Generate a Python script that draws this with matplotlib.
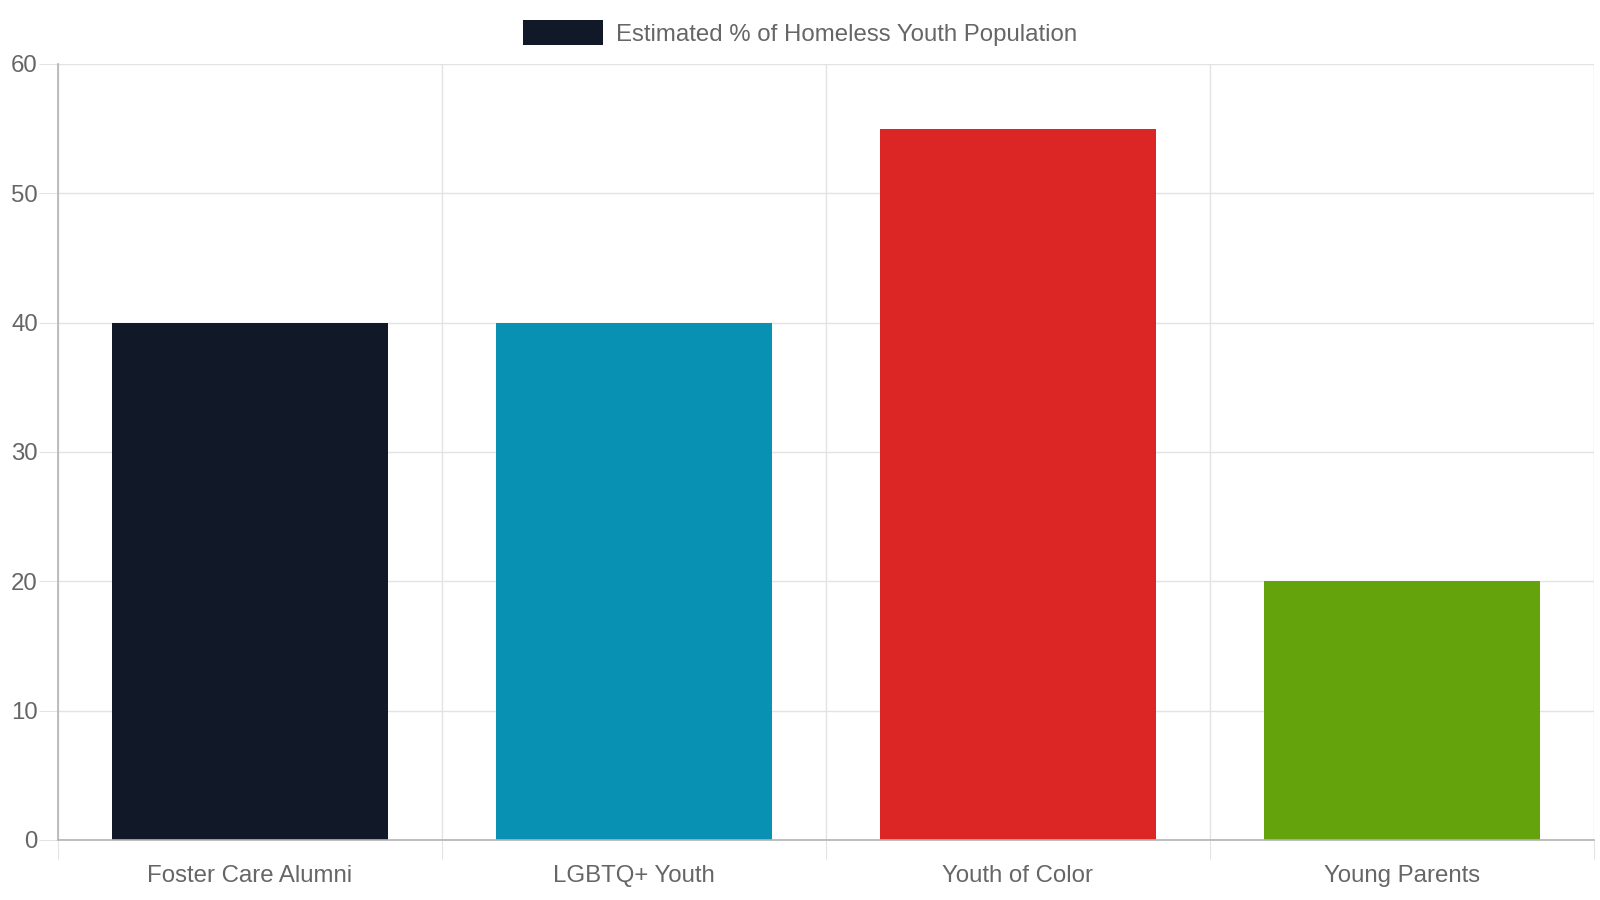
import matplotlib.pyplot as plt
from matplotlib.patches import Patch

plt.rcParams['font.family'] = ['Liberation Sans', 'DejaVu Sans']

categories = ['Foster Care Alumni', 'LGBTQ+ Youth', 'Youth of Color', 'Young Parents']
values = [40, 40, 55, 20]
colors = ['#111827', '#0891b2', '#dc2626', '#65a30d']
series_name = 'Estimated % of Homeless Youth Population'

W, H = 1600, 900
fig = plt.figure(figsize=(16, 9), dpi=100)
ax = fig.add_axes([58 / W, (H - 840) / H, 1536 / W, 776 / H])

x = list(range(len(categories)))
ax.bar(x, values, width=0.72, color=colors, zorder=3)

ax.set_xlim(-0.5, len(categories) - 0.5)
ax.set_ylim(0, 60)
ax.set_yticks(range(0, 61, 10))
ax.set_xticks(x)
ax.set_xticklabels(categories)
ax.set_xticks([i - 0.5 for i in range(len(categories) + 1)], minor=True)

grid_c = '#e3e3e3'
ax.grid(axis='y', which='major', color=grid_c, linewidth=1, zorder=0)
ax.grid(axis='x', which='minor', color=grid_c, linewidth=1, zorder=0)
ax.grid(axis='x', which='major', visible=False)

fs = 17.3
ax.tick_params(axis='x', which='major', length=0, pad=18, labelsize=fs, labelcolor='#666666')
ax.tick_params(axis='x', which='minor', length=14, width=0.75, color=grid_c)
ax.tick_params(axis='y', length=14, width=0.75, color=grid_c, pad=0.5, labelsize=fs, labelcolor='#666666')

for s in ['top', 'right']:
    ax.spines[s].set_visible(False)
for s in ['left', 'bottom']:
    ax.spines[s].set_color('#b3b3b3')
    ax.spines[s].set_linewidth(1.2)
    ax.spines[s].set_zorder(4)

handle = Patch(facecolor=colors[0], edgecolor='none')
fig.legend([handle], [series_name], loc='center', bbox_to_anchor=(0.5, 1 - 33 / H),
           frameon=False, fontsize=fs, labelcolor='#666666',
           handlelength=3.34, handleheight=1.2, handletextpad=0.52)

fig.savefig('out.png', dpi=100)
